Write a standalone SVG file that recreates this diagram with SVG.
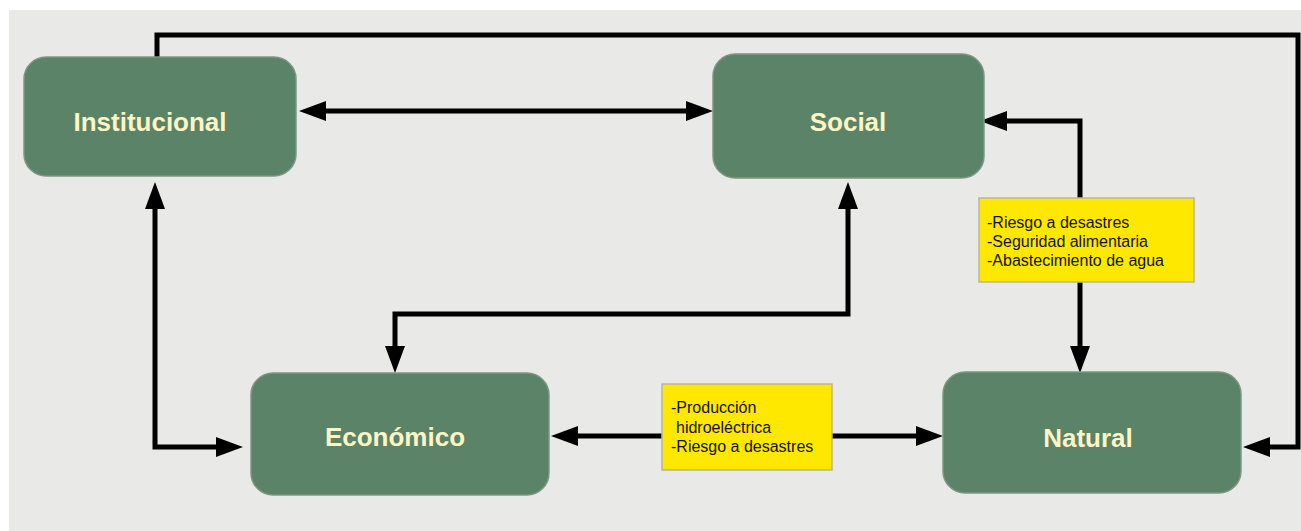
<svg xmlns="http://www.w3.org/2000/svg" width="1301" height="531" viewBox="0 0 1301 531">
<style>
.node rect{fill:#5b8367;stroke:#7f9683;stroke-width:1.5}
.node text{font-family:"Liberation Sans",Arial,sans-serif;font-weight:bold;font-size:26px;fill:#fcf5c4;text-anchor:middle}
.lbl rect{fill:#ffe800;stroke:#b9b596;stroke-width:1.5}
.lbl text{font-family:"Liberation Sans",Arial,sans-serif;font-size:16px;fill:#111}
.conn path{fill:none;stroke:#000;stroke-width:5;stroke-linejoin:miter}
</style>
<defs>
<marker id="ah" markerUnits="userSpaceOnUse" markerWidth="28" markerHeight="20" viewBox="0 0 28 20" refX="17" refY="10" orient="auto-start-reverse">
<path d="M0,0 L27,10 L0,20 z" fill="#000"/>
</marker>
</defs>
<rect x="9" y="10" width="1292" height="521" fill="#e9eae7"/>
<g id="connectors" class="conn">
<path id="c-inst-social" d="M309,111 H703" marker-start="url(#ah)" marker-end="url(#ah)"/>
<path id="c-inst-econ" d="M155,192 V447 H233" marker-start="url(#ah)" marker-end="url(#ah)"/>
<path id="c-social-econ" d="M848,192 V314 H395 V363" marker-start="url(#ah)" marker-end="url(#ah)"/>
<path id="c-social-natural" d="M990,121 H1080 V363" marker-start="url(#ah)" marker-end="url(#ah)"/>
<path id="c-econ-natural" d="M561,436 H933" marker-start="url(#ah)" marker-end="url(#ah)"/>
<path id="c-inst-natural" d="M157,57 V35 H1298 V447 H1253" marker-end="url(#ah)"/>
</g>
<g id="node-institucional" class="node">
<rect x="24" y="57" width="272" height="119" rx="22"/>
<text x="150" y="131">Institucional</text>
</g>
<g id="node-social" class="node">
<rect x="713" y="54" width="271" height="124" rx="22"/>
<text x="848" y="131">Social</text>
</g>
<g id="node-economico" class="node">
<rect x="251" y="373" width="298" height="122" rx="22"/>
<text x="395" y="446">Económico</text>
</g>
<g id="node-natural" class="node">
<rect x="943" y="372" width="298" height="121" rx="22"/>
<text x="1088" y="447">Natural</text>
</g>
<g id="label-social-natural" class="lbl">
<rect x="979" y="198" width="215" height="84"/>
<text x="987" y="228">-Riesgo a desastres</text>
<text x="987" y="247">-Seguridad alimentaria</text>
<text x="987" y="266">-Abastecimiento de agua</text>
</g>
<g id="label-econ-natural" class="lbl">
<rect x="662" y="384" width="170" height="86"/>
<text x="671" y="413">-Producción</text>
<text x="676" y="433">hidroeléctrica</text>
<text x="671" y="452">-Riesgo a desastres</text>
</g>
</svg>
